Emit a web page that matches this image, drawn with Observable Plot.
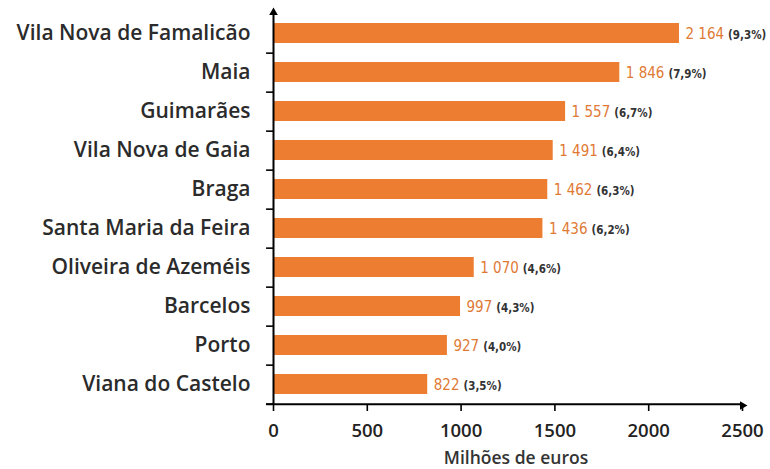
<!DOCTYPE html>
<html>
<head>
<meta charset="utf-8">
<script src="https://cdn.jsdelivr.net/npm/d3@7"></script>
<script src="https://cdn.jsdelivr.net/npm/@observablehq/plot@0.6"></script>
<style>
  html, body { margin: 0; padding: 0; background: #fff; }
</style>
</head>
<body>
<div id="chart"></div>
<script>
const cities = ["Vila Nova de Famalicão", "Maia", "Guimarães", "Vila Nova de Gaia", "Braga",
  "Santa Maria da Feira", "Oliveira de Azeméis", "Barcelos", "Porto", "Viana do Castelo"];
const values = [2164, 1846, 1557, 1491, 1462, 1436, 1070, 997, 927, 822];
const shares = [9.3, 7.9, 6.7, 6.4, 6.3, 6.2, 4.6, 4.3, 4.0, 3.5];
const xTicks = [0, 500, 1000, 1500, 2000, 2500];
const xLabel = "Milhões de euros";

const data = cities.map((c, i) => ({city: c, value: values[i], share: shares[i]}));

const W = 770, H = 469, mT = 12, mB = 64, mL = 273, mR = 28;
const step = (H - mT - mB) / cities.length;
const loc = d3.formatLocale({decimal: ",", thousands: " ", grouping: [3]});
const fmtVal = loc.format(",d");
const fmtPct = loc.format(".1f");
const orange = "#ED7D31";
const tickLen = 37; // in euros units
const mainFont = "'Open Sans', Roboto, sans-serif";

const chart = Plot.plot({
  width: W, height: H,
  marginTop: mT, marginBottom: mB, marginLeft: mL, marginRight: mR,
  style: {fontFamily: mainFont, background: "#fff", color: "#2b2b2b"},
  x: {domain: [0, 2500]},
  y: {domain: cities, paddingInner: 0.48, paddingOuter: 0.24},
  marks: [
    Plot.barX(data, {x: "value", y: "city", fill: orange}),
    Plot.ruleX([0], {stroke: "#000", strokeWidth: 2}),
    Plot.ruleY(cities, {y: d => d, x1: -tickLen, x2: 0, dy: step / 2, stroke: "#000", strokeWidth: 1.6}),
    Plot.ruleY([cities[cities.length - 1]], {y: d => d, x1: -tickLen, x2: 2500, dy: step / 2, stroke: "#000", strokeWidth: 2}),
    Plot.dot([2500], {x: d => d, frameAnchor: "bottom", symbol: "triangle", rotate: 90, r: 3.2, fill: "#000", stroke: "none"}),
    Plot.dot([0], {x: d => d, frameAnchor: "top", symbol: "triangle", r: 3.2, fill: "#000", stroke: "none"}),
    Plot.axisY({tickSize: 0, tickPadding: 23, fontSize: 21, fontWeight: 600, fill: "#2b2b2b", label: null}),
    Plot.axisX({ticks: xTicks, tickSize: 6, tickPadding: 12, tickFormat: d => String(d), fontSize: 18.5, fontWeight: 600, fill: "#222", stroke: "#000", strokeWidth: 1.6, label: null}),
    Plot.text([xLabel], {text: d => d, frameAnchor: "bottom", dy: 58, dx: 8, fontSize: 17.5, fontWeight: 600, fill: "#333"}),
    Plot.text(data, {x: "value", y: "city", text: d => fmtVal(d.value), dx: 6, dy: 1, textAnchor: "start",
      fill: "#DF7A35", fontSize: 15, fontFamily: "'Liberation Sans Narrow', 'DejaVu Sans Condensed', sans-serif",
      ariaLabel: d => "val-" + d.city})
  ]
});

// append share (percentage) as a dark tspan after each value label
d3.select(chart).selectAll('text[aria-label^="val-"]').each(function() {
  const city = this.getAttribute("aria-label").slice(4);
  const d = data.find(e => e.city === city);
  d3.select(this).append("tspan")
    .attr("dx", 4)
    .attr("fill", "#333")
    .attr("font-size", 11.5)
    .attr("font-weight", "bold")
    .attr("font-family", "'DejaVu Sans Condensed', sans-serif")
    .text(`(${fmtPct(d.share)}%)`);
});

document.getElementById("chart").appendChild(chart);
</script>
</body>
</html>
